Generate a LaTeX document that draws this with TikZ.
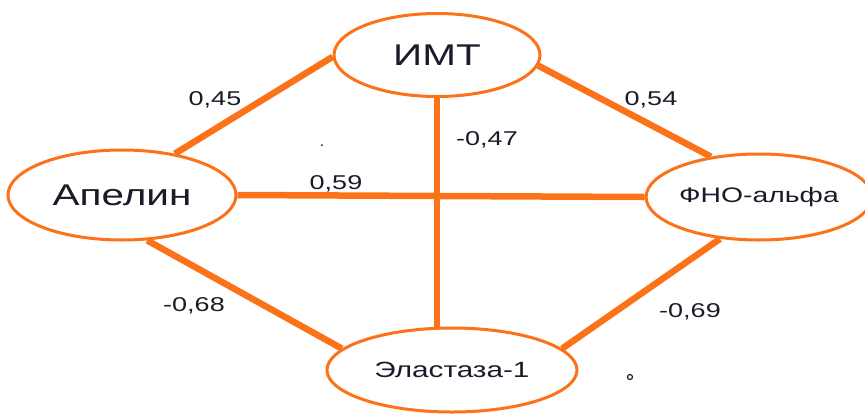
\documentclass[tikz,border=0pt]{standalone}
\usepackage{fontspec}
\setmainfont{Liberation Sans}[FakeStretch=1.35]
\usepackage{xcolor}
\usetikzlibrary{shapes.geometric, calc, backgrounds}

\definecolor{corrorange}{RGB}{252,114,24}
\definecolor{textdark}{RGB}{25,28,40}

\begin{document}
\begin{tikzpicture}[
        x=1pt, y=-1pt,
        % Define styles for the nodes
        var_node/.style={ellipse, draw=corrorange, line width=3pt, fill=white, inner sep=0pt, align=center, text=textdark},
        coef_node/.style={inner sep=0pt, align=center, text=textdark, font=\fontsize{20}{24}\selectfont},
        % Styles for the connecting lines
        corr_line/.style={draw=corrorange, line width=6.5pt}
    ]

    \useasboundingbox (0,0) rectangle (865,416);

    % =========================================================================
    % VARIABLES
    % =========================================================================
    \node (imt) [var_node, minimum width=206pt, minimum height=83pt, font=\fontsize{30}{36}\selectfont] at (437,55) {ИМТ};
    \node (apelin) [var_node, minimum width=228pt, minimum height=90pt, font=\fontsize{30}{36}\selectfont] at (122,195) {Апелин};
    \node (fno) [var_node, minimum width=208pt, minimum height=86pt, font=\fontsize{21}{25}\selectfont] at (759,197) {ФНО-альфа};
    \node (elast) [var_node, minimum width=250pt, minimum height=84pt, font=\fontsize{22}{26}\selectfont] at (452,370) {Эластаза-1};

    % =========================================================================
    % CORRELATIONS (behind the ellipses)
    % =========================================================================
    \begin{scope}[on background layer]
    \draw [corr_line] (apelin.38) -- (imt.181);
    \draw [corr_line] (imt.-6) -- (fno.140);
    \draw [corr_line] (imt.south) -- (imt.south |- elast.north);
    \draw [corr_line] (apelin.east) -- (fno.west);
    \draw [corr_line] (apelin.-61) -- (elast.169);
    \draw [corr_line] (fno.-133) -- (elast.11);
    \end{scope}

    % =========================================================================
    % COEFFICIENTS
    % =========================================================================
    \node (c_imt_ap) [coef_node] at (215,100) {0,45};
    \node (c_imt_fno) [coef_node] at (651,100) {0,54};
    \node (c_imt_el) [coef_node] at (487,140) {-0,47};
    \node (c_ap_fno) [coef_node] at (336,184) {0,59};
    \node (c_ap_el) [coef_node] at (194,306) {-0,68};
    \node (c_fno_el) [coef_node] at (690,312) {-0,69};

    % small marks
    \node (dot_a) [circle, fill=textdark, inner sep=0pt, minimum size=2pt] at (322,145) {};
    \node (dot_b) [circle, draw=textdark, line width=1.2pt, inner sep=0pt, minimum size=5pt] at (630,377) {};

    \end{tikzpicture}
\end{document}
